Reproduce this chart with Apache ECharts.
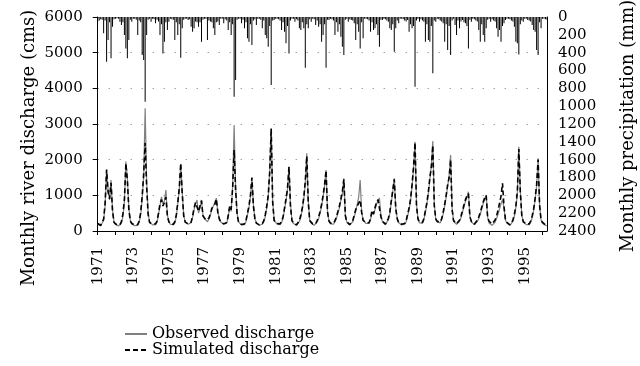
<!DOCTYPE html>
<html>
<head>
<meta charset="utf-8">
<script src="https://cdn.jsdelivr.net/npm/echarts@6/dist/echarts.min.js"></script>
<style>html,body{margin:0;padding:0;background:#fff;}#c{width:640px;height:366px;}</style>
</head>
<body>
<div id="c"></div>
<script>
// ---- data (monthly, Jan 1971 onward) ----
var startYear = 1971;
var yearTickLabels = ['1971','1973','1975','1977','1979','1981','1983','1985','1987','1989','1991','1993','1995'];
var seriesNames = ['Observed discharge', 'Simulated discharge'];

var observed = [
  180,150,140,160,300,700,1700,1150,870,1430,600,250,
  180,150,140,160,220,400,800,1950,1500,650,300,200,
  170,150,140,160,250,450,900,1500,3440,1400,500,250,
  200,170,150,180,250,450,700,960,750,850,1150,450,
  250,190,160,170,230,400,750,1150,1850,1100,450,250,
  220,190,180,230,380,600,750,870,500,650,870,450,
  350,300,260,330,450,600,700,800,920,550,350,250,
  220,190,170,220,380,680,550,1250,2970,1250,500,250,
  200,170,150,180,260,450,650,950,1480,750,350,220,
  180,160,150,190,260,400,650,950,1700,2880,850,300,
  250,190,170,180,240,350,600,850,1150,1800,750,300,
  210,180,160,190,260,400,600,900,1350,2180,850,300,
  220,180,160,180,260,350,500,700,950,1250,1710,550,
  260,200,170,190,260,350,500,650,850,1050,1480,450,
  240,190,170,190,260,400,550,750,950,1430,550,300,
  260,210,190,210,320,540,450,600,750,850,925,420,
  260,210,180,200,320,480,800,1100,1480,650,350,230,
  190,170,160,190,260,420,600,850,1250,1750,2500,750,
  320,230,200,220,320,520,750,1050,1450,1850,2520,750,
  320,250,210,230,320,480,700,950,1250,1550,2130,650,
  270,220,190,210,270,370,520,680,830,930,1100,420,
  250,200,180,200,270,350,470,620,770,880,1010,380,
  220,180,160,180,250,350,470,620,770,880,650,300,
  220,180,160,190,270,420,650,1050,2360,1150,450,260,
  220,180,160,180,250,370,570,870,1250,2040,750,300,
  220,180,160,150
];

var simulated = [
  210,170,160,180,330,780,1720,1100,900,1350,560,240,
  200,170,160,180,260,480,880,1900,1420,600,280,210,
  190,170,160,180,280,520,980,1600,2470,1250,470,240,
  220,190,170,200,280,500,760,880,700,800,950,420,
  260,200,170,190,260,450,800,1200,1900,1050,420,250,
  240,200,190,250,420,650,800,800,550,700,850,420,
  370,310,280,360,490,640,650,750,900,520,340,250,
  240,200,180,240,420,700,600,1200,2270,1150,470,250,
  220,180,160,200,290,500,700,1000,1500,700,340,220,
  200,170,160,210,290,450,700,1000,1650,2870,800,290,
  270,210,180,200,270,400,650,900,1200,1800,700,290,
  230,190,170,210,290,450,650,950,1400,2100,800,290,
  240,200,170,200,290,400,550,750,1000,1300,1700,520,
  280,220,180,210,290,400,550,700,900,1100,1450,430,
  260,210,180,210,290,450,600,700,780,870,520,300,
  280,230,200,230,350,580,480,650,800,880,900,400,
  280,230,190,220,350,530,850,1150,1450,620,340,230,
  210,190,170,210,290,470,650,900,1300,1800,2480,700,
  340,250,210,240,350,570,800,1100,1500,1780,2400,700,
  340,270,220,250,350,530,750,1000,1300,1500,2000,600,
  290,240,200,230,300,420,570,730,880,980,1050,400,
  270,220,190,220,300,400,520,670,820,930,1000,360,
  270,230,200,230,310,430,580,780,980,1340,680,320,
  240,200,170,210,300,470,700,1100,2300,1100,430,260,
  250,200,170,200,280,420,620,920,1300,2000,720,300,
  240,200,170,160
];

var precipitation = [
  50,40,25,30,183,40,501,258,60,464,108,25,
  20,15,20,52,90,60,202,352,464,258,30,52,
  20,20,30,202,40,60,426,482,950,202,30,20,
  52,20,25,71,30,50,202,80,408,277,60,146,
  52,20,25,30,258,60,202,80,456,127,30,20,
  20,35,25,108,165,127,50,60,108,60,277,30,
  20,20,258,40,50,60,127,202,60,50,90,20,
  20,71,25,40,146,60,202,80,894,707,30,20,
  20,71,30,127,60,239,277,80,314,40,25,90,
  20,20,30,127,40,202,239,333,100,763,40,35,
  20,20,25,40,146,60,165,295,100,408,40,20,
  20,52,25,40,127,146,60,127,568,80,127,25,
  52,20,25,90,40,108,80,277,202,80,568,30,
  35,20,25,40,202,60,165,80,221,333,426,30,
  20,52,25,35,40,71,258,80,165,352,60,239,
  20,20,25,40,165,60,146,127,80,202,333,30,
  35,20,25,40,52,127,146,80,389,127,40,71,
  20,20,25,40,50,35,165,80,127,100,782,40,
  20,52,25,40,52,277,80,258,277,100,632,40,
  52,20,25,40,50,71,277,80,370,100,426,40,
  20,90,202,40,127,50,35,60,71,100,352,30,
  52,20,25,40,50,146,277,80,202,277,127,30,
  20,52,25,40,50,127,221,146,277,100,71,35,
  20,20,25,40,50,108,277,295,420,80,40,52,
  20,20,35,40,50,90,146,165,370,426,60,127,
  20,20,25,30
];

// ---- categories (one per month) ----
var months = [];
for (var i = 0; i < observed.length; i++) {
  months.push(String(startYear + Math.floor(i / 12)) + '-' + String(i % 12 + 1));
}

var FONT = 'DejaVu Serif';
var plain = function (v) { return String(v); };
var chart = echarts.init(document.getElementById('c'), null, {renderer: 'canvas'});
chart.setOption({
  animation: false,
  backgroundColor: '#fff',
  grid: {left: 97.7, right: 93, top: 17, bottom: 135, containLabel: false},
  legend: {
    data: seriesNames,
    orient: 'vertical',
    left: 119, top: 321,
    itemWidth: 22, itemHeight: 12, itemGap: 0,
    itemStyle: {opacity: 0},
    textStyle: {fontFamily: FONT, fontSize: 16, color: '#000'}
  },
  xAxis: {
    type: 'category',
    data: months,
    boundaryGap: false,
    axisLine: {lineStyle: {color: '#000', width: 1}},
    axisTick: {
      interval: function (idx) { return idx % 12 === 0; },
      length: 4, lineStyle: {color: '#000'}
    },
    axisLabel: {
      interval: function (idx) { return idx % 24 === 0; },
      formatter: function (v, idx) { return yearTickLabels[idx / 24]; },
      rotate: 90, margin: 16,
      fontFamily: FONT, fontSize: 15, color: '#000'
    },
    splitLine: {show: false}
  },
  yAxis: [
    {
      type: 'value', min: 0, max: 6000, interval: 1000,
      axisLine: {show: true, lineStyle: {color: '#000'}},
      axisTick: {show: true, length: 5, lineStyle: {color: '#000'}},
      axisLabel: {margin: 15, formatter: plain, fontFamily: FONT, fontSize: 15, color: '#000'},
      splitLine: {show: true, lineStyle: {color: '#777', type: [1, 10], width: 1}}
    },
    {
      type: 'value', min: 0, max: 2400, interval: 200, inverse: true,
      position: 'right',
      axisLine: {show: true, lineStyle: {color: '#000'}},
      axisTick: {show: false},
      axisLabel: {margin: 11, formatter: plain, fontFamily: FONT, fontSize: 15, color: '#000'},
      splitLine: {show: false}
    }
  ],
  graphic: [
    {type: 'text', x: 29, y: 148, rotation: Math.PI / 2,
     style: {text: 'Monthly river discharge (cms)', font: '18px "DejaVu Serif"', fill: '#000', align: 'center', verticalAlign: 'middle'}},
    {type: 'text', x: 628, y: 126, rotation: Math.PI / 2,
     style: {text: 'Monthly precipitation (mm)', font: '18px "DejaVu Serif"', fill: '#000', align: 'center', verticalAlign: 'middle'}}
  ],
  series: [
    {
      name: 'Precipitation', type: 'bar', yAxisIndex: 1,
      data: precipitation, barWidth: 1,
      itemStyle: {color: '#000'}, silent: true
    },
    {
      name: seriesNames[0], type: 'line', data: observed,
      symbol: 'none', lineStyle: {color: '#808080', width: 1.2}, itemStyle: {color: '#808080'}
    },
    {
      name: seriesNames[1], type: 'line', data: simulated,
      symbol: 'none', lineStyle: {color: '#000', width: 1.6, type: [5, 3]}, itemStyle: {color: '#000'}
    }
  ]
});
</script>
</body>
</html>
